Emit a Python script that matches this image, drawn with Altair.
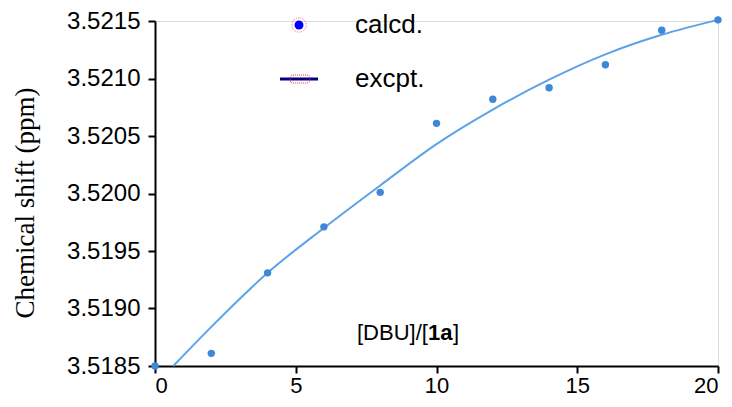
import altair as alt
import pandas as pd

# measured points
ratio = [0, 2, 4, 6, 8, 10, 12, 14, 16, 18, 20]
shift = [3.51850, 3.51861, 3.51931, 3.51971, 3.52001, 3.52061,
         3.52082, 3.52092, 3.52112, 3.52142, 3.52151]

# fitted curve
fit_x = [0.65, 2, 4, 6, 8, 10, 12, 14, 16, 18, 20]
fit_y = [3.51850, 3.51884, 3.51931, 3.51970, 3.52007, 3.52043,
         3.52073, 3.52099, 3.52121, 3.52138, 3.52151]

y_ticks = [3.5185, 3.5190, 3.5195, 3.5200, 3.5205, 3.5210, 3.5215]
x_ticks = [0, 5, 10, 15, 20]

pts = pd.DataFrame({"x": ratio, "y": shift})
fit = pd.DataFrame({"x": fit_x, "y": fit_y})

xs = alt.Scale(domain=[0, 20], nice=False, zero=False)
ys = alt.Scale(domain=[3.5185, 3.5215], nice=False, zero=False)

FONT = "Liberation Sans"

x_axis = alt.Axis(values=x_ticks, title=None, grid=False, domainColor="black",
                  domainWidth=2, tickColor="black", tickWidth=2, tickSize=7,
                  labelFont=FONT, labelFontSize=22, labelColor="black", labelPadding=2)
y_axis = alt.Axis(values=y_ticks, title=None, grid=False, format=".4f",
                  domainColor="black", domainWidth=2, tickColor="black",
                  tickWidth=2, tickSize=7, labelFont=FONT, labelFontSize=24,
                  labelColor="black", labelPadding=8)

line = alt.Chart(fit).mark_line(color="#5ca3e6", strokeWidth=2, interpolate="monotone").encode(
    x=alt.X("x:Q", scale=xs, axis=x_axis),
    y=alt.Y("y:Q", scale=ys, axis=y_axis),
)
points = alt.Chart(pts).mark_circle(color="#3f87d8", size=55, opacity=1).encode(
    x=alt.X("x:Q", scale=xs),
    y=alt.Y("y:Q", scale=ys),
)

one = pd.DataFrame({"a": [0]})

def txt(text, x, y, size=22, weight="normal", align="left", font=FONT, angle=0):
    kw = dict(text=text, font=font, fontSize=size, fontWeight=weight,
              align=align, baseline="middle", color="black")
    if angle:
        kw["angle"] = angle
    return alt.Chart(one).mark_text(**kw).encode(x=alt.value(x), y=alt.value(y))

ytitle = txt("Chemical shift (ppm)", -129, 182, size=27, align="center",
             font="Liberation Serif", angle=270)

ann1 = txt("[DBU]/[", 202, 312)
ann2 = txt("1a", 273, 312, weight="bold")
ann3 = txt("]", 298, 312)

# legend
ring = alt.Chart(one).mark_point(shape="circle", filled=False, color="#ff3030",
                                 strokeDash=[1, 1], strokeWidth=1, size=200).encode(
    x=alt.value(144), y=alt.value(4))
dot = alt.Chart(one).mark_circle(color="#0000ff", size=80, opacity=1).encode(
    x=alt.value(144), y=alt.value(4))
lrule = alt.Chart(one).mark_rule(color="#000080", strokeWidth=3).encode(
    x=alt.value(125), x2=alt.value(163), y=alt.value(58))
lrect = alt.Chart(one).mark_rect(fill=None, fillOpacity=0, stroke="#ff3030", strokeDash=[1, 1],
                                 strokeWidth=1, cornerRadius=3).encode(
    x=alt.value(135), x2=alt.value(155), y=alt.value(54), y2=alt.value(62))
lt1 = txt("calcd.", 200, 4, size=26)
lt2 = txt("excpt.", 200, 58, size=26)

chart = alt.layer(line, points, ytitle, ann1, ann2, ann3, ring, dot, lrule, lrect, lt1, lt2).properties(
    width=563, height=345,
    autosize=alt.AutoSizeParams(type="none"),
    padding={"left": 147, "top": 13, "right": 6, "bottom": 33},
).configure_view(stroke=None).configure(background="white")

chart.save("out.html", embed_options={"renderer": "svg", "actions": False})
